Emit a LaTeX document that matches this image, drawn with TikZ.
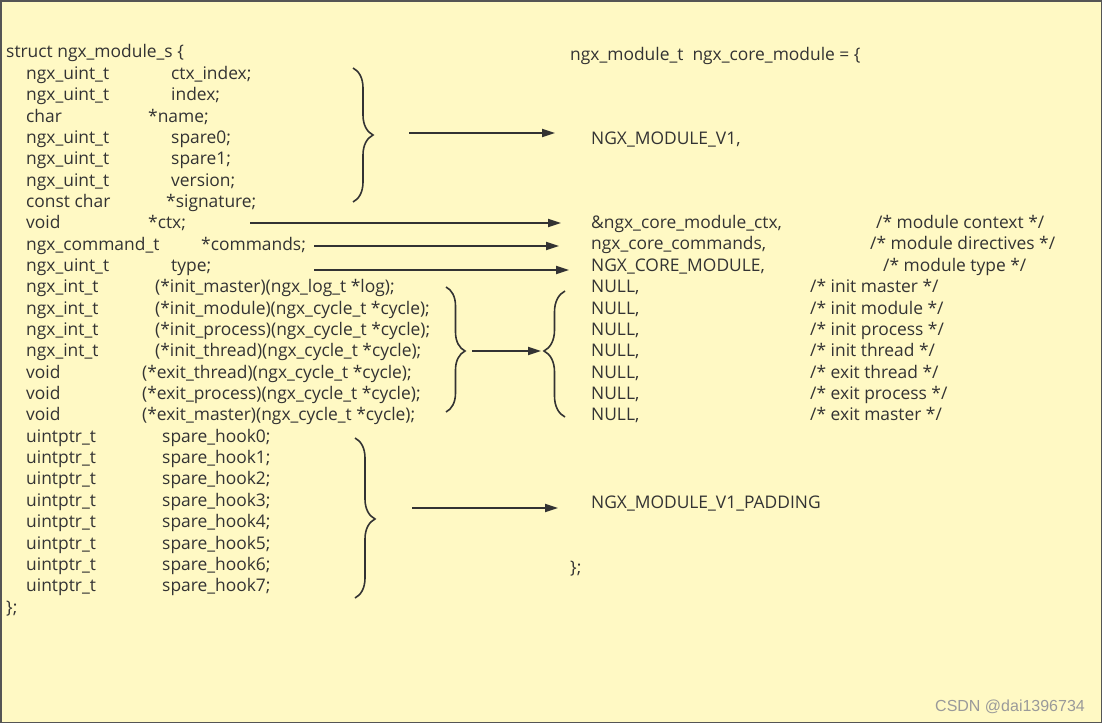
\documentclass[tikz,border=0pt]{standalone}
\usepackage{fontspec}
\setmainfont{Open Sans}
\newfontfamily\markfont{Liberation Sans}
\usetikzlibrary{arrows.meta,decorations.pathreplacing}
\definecolor{paper}{HTML}{FFF9C4}
\definecolor{ink}{HTML}{333333}
\definecolor{frame}{HTML}{555555}
\definecolor{markgray}{HTML}{9A9A9A}
\begin{document}
\begin{tikzpicture}[x=1pt,y=-1pt,
  code/.style={anchor=west,inner sep=0pt,text height=14pt,text depth=2pt,
    text=ink,font=\fontsize{17.4}{20}\selectfont},
  link/.style={draw=ink,line width=1.8pt,-{Triangle[length=13pt,width=8pt]}},
  curly/.style={draw=ink,line width=1.6pt,decorate,
    decoration={brace,amplitude=#1}},
  curly/.default=20pt]

% page and frame
\useasboundingbox (0,0) rectangle (1102,723);
\path[fill=paper,draw=frame,line width=1.5pt] (0.75,0.75) rectangle (1101.25,722.25);

% ---------- struct definition ----------
\node[code] (sopen) at (6,51) {struct ngx\_module\_s \{};
\foreach \i/\ty/\nx/\nm in {
  1/ngx\_uint\_t/171/ctx\_index;,
  2/ngx\_uint\_t/171/index;,
  3/char/148/*name;,
  4/ngx\_uint\_t/171/spare0;,
  5/ngx\_uint\_t/171/spare1;,
  6/ngx\_uint\_t/171/version;,
  7/const char/166/*signature;,
  8/void/148/*ctx;,
  9/ngx\_command\_t/201/*commands;,
  10/ngx\_uint\_t/171/type;,
  11/ngx\_int\_t/155/(*init\_master)(ngx\_log\_t *log);,
  12/ngx\_int\_t/155/(*init\_module)(ngx\_cycle\_t *cycle);,
  13/ngx\_int\_t/155/(*init\_process)(ngx\_cycle\_t *cycle);,
  14/ngx\_int\_t/155/(*init\_thread)(ngx\_cycle\_t *cycle);,
  15/void/142/(*exit\_thread)(ngx\_cycle\_t *cycle);,
  16/void/142/(*exit\_process)(ngx\_cycle\_t *cycle);,
  17/void/142/(*exit\_master)(ngx\_cycle\_t *cycle);,
  18/uintptr\_t/162/spare\_hook0;,
  19/uintptr\_t/162/spare\_hook1;,
  20/uintptr\_t/162/spare\_hook2;,
  21/uintptr\_t/162/spare\_hook3;,
  22/uintptr\_t/162/spare\_hook4;,
  23/uintptr\_t/162/spare\_hook5;,
  24/uintptr\_t/162/spare\_hook6;,
  25/uintptr\_t/162/spare\_hook7;}
{
  \pgfmathsetmacro\yy{73.3+21.35*(\i-1)}
  \node[code] (ty\i) at (26,\yy) {\ty};
  \node[code] (fd\i) at (\nx,\yy) {\nm};
}
\node[code] (sclose) at (6,607) {\};};

% ---------- ngx_core_module initialiser ----------
\node[code] (mopen) at (570,54) {ngx\_module\_t\ \ ngx\_core\_module = \{};
\node[code] (v1) at (591,138) {NGX\_MODULE\_V1,};
\node[code] (vctx) at (591,222.4) {\&ngx\_core\_module\_ctx,};
\node[code] (cctx) at (876,222.4) {/* module context */};
\node[code] (vcmd) at (591,243.7) {ngx\_core\_commands,};
\node[code] (ccmd) at (870,243.7) {/* module directives */};
\node[code] (vtype) at (591,265.0) {NGX\_CORE\_MODULE,};
\node[code] (ctype) at (883,265.0) {/* module type */};
\foreach \i/\cm in {11/init master,12/init module,13/init process,
  14/init thread,15/exit thread,16/exit process,17/exit master}
{
  \pgfmathsetmacro\yy{73.3+21.35*(\i-1)}
  \node[code] (vn\i) at (591,\yy) {NULL,};
  \node[code] (cn\i) at (810,\yy) {/* \cm\ */};
}
\node[code] (pad) at (591,502) {NGX\_MODULE\_V1\_PADDING};
\node[code] (mclose) at (570,567) {\};};

% ---------- braces ----------
\draw[curly=20pt] (353,68) -- (353,202);
\draw[curly=19pt,decoration={aspect=0.512}] (446,287) -- (446,412);
\draw[curly=21pt,decoration={mirror,aspect=0.476}] (565,291) -- (565,417);
\draw[curly=20pt,decoration={aspect=0.506}] (355,438) -- (355,598);

% ---------- arrow end points ----------
\coordinate (hdrS) at (409,133);  \coordinate (hdrE) at (555,133);
\coordinate (ctxS) at (250,223);  \coordinate (ctxE) at (561,223);
\coordinate (cmdS) at (314,246);  \coordinate (cmdE) at (559,246);
\coordinate (typS) at (314,270);  \coordinate (typE) at (569,270);
\coordinate (fnS)  at (472,351);  \coordinate (fnE)  at (541,351);
\coordinate (hkS)  at (412,508);  \coordinate (hkE)  at (558,508);

\draw[link] (hdrS) -- (hdrE);
\draw[link] (ctxS) -- (ctxE);
\draw[link] (cmdS) -- (cmdE);
\draw[link] (typS) -- (typE);
\draw[link] (fnS) -- (fnE);
\draw[link] (hkS) -- (hkE);

% signature
\node[anchor=west,inner sep=0pt,text=markgray,font=\markfont\fontsize{16}{18}\selectfont]
  (sig) at (935,707) {CSDN @dai1396734};
\end{tikzpicture}
\end{document}
